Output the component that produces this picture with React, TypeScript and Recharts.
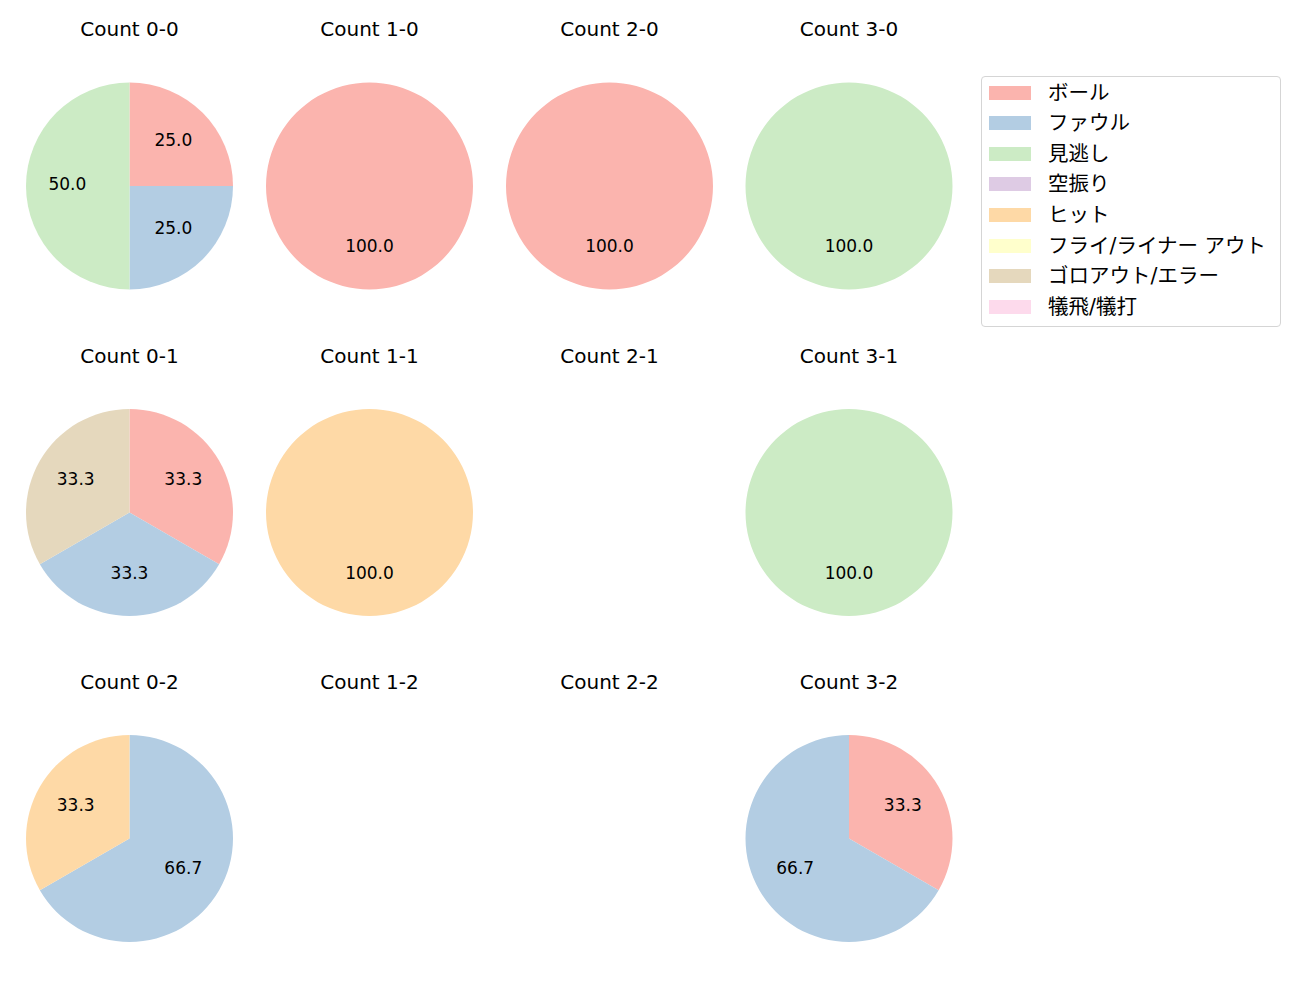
import React from "react";
import { PieChart, Pie, Cell } from "recharts";

// 球種別の結果カテゴリ（Pastel1）
const categories = [
  "ボール",
  "ファウル",
  "見逃し",
  "空振り",
  "ヒット",
  "フライ/ライナー アウト",
  "ゴロアウト/エラー",
  "犠飛/犠打",
];
const colors = ["#fbb4ae", "#b3cde3", "#ccebc5", "#decbe4", "#fed9a6", "#ffffcc", "#e5d8bd", "#fddaec"];

// カウントごとの件数（categories と同じ順）
const countTitles = [
  ["Count 0-0", "Count 1-0", "Count 2-0", "Count 3-0"],
  ["Count 0-1", "Count 1-1", "Count 2-1", "Count 3-1"],
  ["Count 0-2", "Count 1-2", "Count 2-2", "Count 3-2"],
];
const count00 = [1, 1, 2, 0, 0, 0, 0, 0];
const count10 = [1, 0, 0, 0, 0, 0, 0, 0];
const count20 = [1, 0, 0, 0, 0, 0, 0, 0];
const count30 = [0, 0, 1, 0, 0, 0, 0, 0];
const count01 = [1, 1, 0, 0, 0, 0, 1, 0];
const count11 = [0, 0, 0, 0, 1, 0, 0, 0];
const count21 = [0, 0, 0, 0, 0, 0, 0, 0];
const count31 = [0, 0, 1, 0, 0, 0, 0, 0];
const count02 = [0, 2, 0, 0, 1, 0, 0, 0];
const count12 = [0, 0, 0, 0, 0, 0, 0, 0];
const count22 = [0, 0, 0, 0, 0, 0, 0, 0];
const count32 = [1, 2, 0, 0, 0, 0, 0, 0];

const grid = [
  [count00, count10, count20, count30],
  [count01, count11, count21, count31],
  [count02, count12, count22, count32],
];

const colX = [129.5, 369.5, 609.5, 849];
const rowY = [186, 512.5, 838.5];
const titleY = [28.5, 355.5, 681.5];
const R = 103.5;
const FONT = '"DejaVu Sans", "Noto Sans CJK JP", sans-serif';
const RAD = Math.PI / 180;

function toSlices(counts: number[]) {
  return counts
    .map((v, i) => ({ name: categories[i], value: v, color: colors[i] }))
    .filter((d) => d.value > 0);
}

// matplotlib の autopct と同じく半径 0.6 の位置に % を置く
const renderLabel = (props: any) => {
  const { cx, cy, midAngle, outerRadius, percent } = props;
  const r = outerRadius * 0.6;
  const x = cx + r * Math.cos(-midAngle * RAD);
  const y = cy + r * Math.sin(-midAngle * RAD);
  return (
    <text
      x={x}
      y={y - 2}
      textAnchor="middle"
      dominantBaseline="central"
      fill="#000"
      style={{ fontFamily: FONT, fontSize: 17 }}
    >
      {(percent * 100).toFixed(1)}
    </text>
  );
};

export default function App() {
  return (
    <div style={{ position: "absolute", left: 0, top: 0, width: 1300, height: 1000, background: "#fff", fontFamily: FONT }}>
      <PieChart width={1300} height={1000} margin={{ top: 0, right: 0, bottom: 0, left: 0 }}>
        {grid.map((row, ri) =>
          row.map((counts, ci) => {
            const slices = toSlices(counts);
            if (slices.length === 0) return null;
            return (
              <Pie
                key={`${ri}-${ci}`}
                data={slices}
                dataKey="value"
                nameKey="name"
                cx={colX[ci]}
                cy={rowY[ri]}
                outerRadius={R}
                startAngle={90}
                endAngle={-270}
                stroke="none"
                label={renderLabel}
                labelLine={false}
                isAnimationActive={false}
              >
                {slices.map((s) => (
                  <Cell key={s.name} fill={s.color} />
                ))}
              </Pie>
            );
          })
        )}
      </PieChart>

      {countTitles.map((row, ri) =>
        row.map((t, ci) => (
          <div
            key={t}
            style={{
              position: "absolute",
              left: colX[ci] - 100,
              width: 200,
              top: titleY[ri] - 13,
              height: 26,
              lineHeight: "26px",
              textAlign: "center",
              fontSize: 20,
              color: "#000",
            }}
          >
            {t}
          </div>
        ))
      )}

      <div
        style={{
          position: "absolute",
          left: 981,
          top: 76,
          width: 298,
          height: 249,
          border: "1px solid #d5d5d5",
          borderRadius: 4,
          boxSizing: "content-box",
        }}
      >
        {categories.map((c, i) => (
          <div
            key={c}
            style={{ position: "absolute", left: 0, top: 0.5 + i * 30.6, height: 30, width: 298 }}
          >
            <div
              style={{
                position: "absolute",
                left: 7,
                top: 8,
                width: 42,
                height: 14,
                background: colors[i],
              }}
            />
            <div
              style={{
                position: "absolute",
                left: 66,
                top: 0,
                height: 30,
                lineHeight: "30px",
                fontSize: 20.5,
                color: "#000",
                whiteSpace: "nowrap",
              }}
            >
              {c}
            </div>
          </div>
        ))}
      </div>
    </div>
  );
}
